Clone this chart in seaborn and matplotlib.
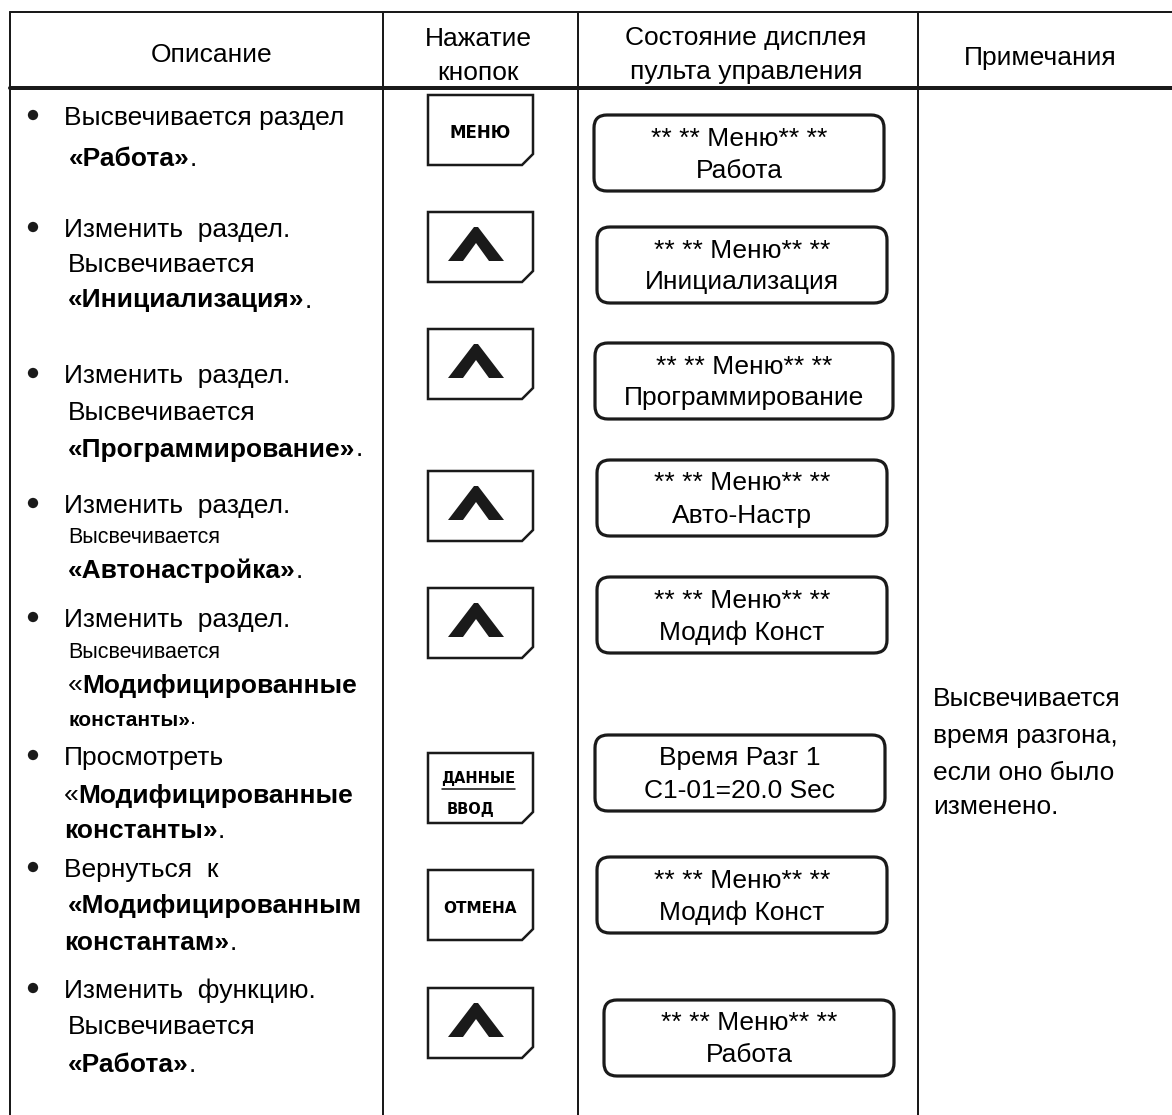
import matplotlib
matplotlib.use("Agg")
import matplotlib.pyplot as plt
from matplotlib.patches import Polygon, FancyBboxPatch
import seaborn as sns

# ---- table content ----
headers = ["Описание", "Нажатие", "кнопок", "Состояние дисплея", "пульта управления", "Примечания"]

# description column: each step -> lines -> (text, style) segments
steps = [
    [[("Высвечивается раздел", "n")], [("«Работа»", "b"), (".", "n")]],
    [[("Изменить  раздел.", "n")], [("Высвечивается", "n")], [("«Инициализация»", "b"), (".", "n")]],
    [[("Изменить  раздел.", "n")], [("Высвечивается", "n")], [("«Программирование»", "b"), (".", "n")]],
    [[("Изменить  раздел.", "n")], [("Высвечивается", "s")], [("«Автонастройка»", "b"), (".", "n")]],
    [[("Изменить  раздел.", "n")], [("Высвечивается", "s")], [("«", "n"), ("Модифицированные", "b")],
     [("константы»", "bs"), (".", "s")]],
    [[("Просмотреть", "n")], [("«", "n"), ("Модифицированные", "b")], [("константы»", "b"), (".", "n")]],
    [[("Вернуться  к", "n")], [("«Модифицированным", "b")], [("константам»", "b"), (".", "n")]],
    [[("Изменить  функцию.", "n")], [("Высвечивается", "n")], [("«Работа»", "b"), (".", "n")]],
]

keys = ["МЕНЮ", "up", "up", "up", "up", "ДАННЫЕ|ВВОД", "ОТМЕНА", "up"]

display_top = ["** ** Меню** **", "** ** Меню** **", "** ** Меню** **", "** ** Меню** **",
               "** ** Меню** **", "Время Разг 1", "** ** Меню** **", "** ** Меню** **"]
display_bottom = ["Работа", "Инициализация", "Программирование", "Авто-Настр",
                  "Модиф Конст", "C1-01=20.0 Sec", "Модиф Конст", "Работа"]

note_lines = ["Высвечивается", "время разгона,", "если оно было", "изменено."]

# ---- layout (pixels, y downwards) ----
W, H = 1172, 1115
col_x = [10, 383, 578, 918]
header_pos = [(212, 52), (478, 36), (478, 70), (746, 36), (746, 70), (1040, 55)]
line_y = [[115, 157], [227, 263, 298], [373, 410, 447], [503, 535, 568],
          [617, 650, 683, 718], [755, 793, 828], [867, 903, 940], [988, 1025, 1062]]
line_x = [[64, 69], [64, 68, 68], [64, 68, 68], [64, 68, 68],
          [64, 68, 68, 68], [64, 64, 64], [64, 68, 64], [64, 68, 68]]
key_top = [95, 212, 329, 471, 588, 753, 870, 988]
disp_top = [115, 227, 343, 460, 577, 735, 857, 1000]
disp_left = [594, 597, 595, 597, 597, 595, 597, 604]
disp_w = [290, 290, 298, 290, 290, 290, 290, 290]
note_y = [697, 733, 770, 805]

STYLE = {"n": (19, "normal"), "b": (19, "bold"), "s": (15.5, "normal"), "bs": (15, "bold")}
PX = 0.72  # points per pixel at dpi 100

sns.set_theme(style="white")
plt.rcParams["font.family"] = ["Liberation Sans", "DejaVu Sans"]
plt.rcParams["text.color"] = "black"

fig = plt.figure(figsize=(W / 100, H / 100), dpi=100)
ax = fig.add_axes([0, 0, 1, 1])
ax.set_xlim(0, W)
ax.set_ylim(H, 0)
ax.axis("off")


def put_line(x, y, segs):
    prev = None
    for txt, st in segs:
        size, weight = STYLE[st]
        if prev is None:
            prev = ax.text(x, y, txt, fontsize=size, fontweight=weight,
                           ha="left", va="center_baseline")
        else:
            prev = ax.annotate(txt, xy=(1, 0), xycoords=prev, fontsize=size,
                               fontweight=weight, ha="left", va="bottom")


# grid lines
ax.plot([col_x[0], W], [12, 12], color="k", lw=2 * PX)
ax.plot([col_x[0], W], [88, 88], color="k", lw=4 * PX)
for x in col_x:
    ax.plot([x, x], [12, H], color="k", lw=2 * PX)

# headers
for txt, (x, y) in zip(headers, header_pos):
    ax.text(x, y, txt, fontsize=19, ha="center", va="center_baseline")

# description column with bullets
first_y = [ys[0] for ys in line_y]
sns.scatterplot(x=[33] * len(first_y), y=first_y, ax=ax, color="k", s=55,
                marker="o", edgecolor="none", legend=False)
for step, ys, xs in zip(steps, line_y, line_x):
    for segs, y, x in zip(step, ys, xs):
        put_line(x, y, segs)


# key buttons
def key_outline(x0, y0, w=105, h=70, c=11):
    return [(x0, y0), (x0 + w, y0), (x0 + w, y0 + h - c), (x0 + w - c, y0 + h), (x0, y0 + h)]


def chevron(cx, top):
    return [(cx - 28, top + 34), (cx - 2, top), (cx + 2, top), (cx + 28, top + 34),
            (cx + 13, top + 34), (cx, top + 16), (cx - 13, top + 34)]


for k, top in zip(keys, key_top):
    ax.add_patch(Polygon(key_outline(428, top), closed=True, fill=False,
                         edgecolor="k", lw=2.5 * PX, joinstyle="miter"))
    if k == "up":
        ax.add_patch(Polygon(chevron(476, top + 15), closed=True, color="k", lw=0))
    elif "|" in k:
        a, b = k.split("|")
        ax.text(478, top + 24, a, fontsize=10.5, fontweight="bold", family="DejaVu Sans",
                ha="center", va="center_baseline")
        ax.plot([442, 515], [top + 36, top + 36], color="k", lw=1.6 * PX)
        ax.text(471, top + 55, b, fontsize=10.5, fontweight="bold", family="DejaVu Sans",
                ha="center", va="center_baseline")
    else:
        ax.text(480, top + 37 if k == "ОТМЕНА" else top + 36, k,
                fontsize=11 if k == "ОТМЕНА" else 12, fontweight="bold",
                family="DejaVu Sans", ha="center", va="center_baseline")

# display panels
for top, left, w, t1, t2 in zip(disp_top, disp_left, disp_w, display_top, display_bottom):
    ax.add_patch(FancyBboxPatch((left, top), w, 76, boxstyle="round,pad=0,rounding_size=13",
                                fill=False, edgecolor="k", lw=3.2 * PX))
    ax.text(left + w / 2, top + 21, t1, fontsize=19, ha="center", va="center_baseline")
    ax.text(left + w / 2, top + 53, t2, fontsize=19, ha="center", va="center_baseline")

# notes column
for txt, y in zip(note_lines, note_y):
    ax.text(933, y, txt, fontsize=19, ha="left", va="center_baseline")

fig.savefig("out.png", dpi=100, facecolor="white")
